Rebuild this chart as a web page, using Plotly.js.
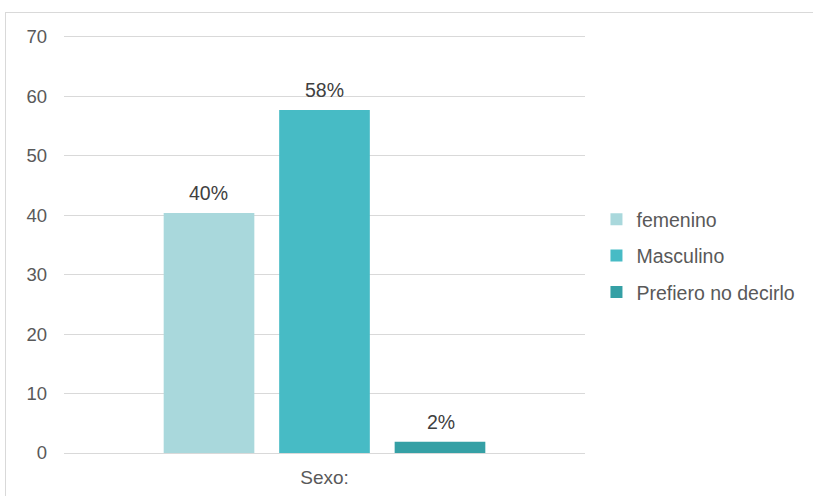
<!DOCTYPE html>
<html>
<head>
<meta charset="utf-8">
<script src="https://cdn.plot.ly/plotly-3.0.1.min.js"></script>
<style>
  html, body { margin: 0; padding: 0; overflow: hidden; background: #fff; }
  #wrap { position: relative; width: 813px; height: 496px; overflow: hidden; }
  #chart { width: 813px; height: 496px; }
  #frame { position: absolute; left: 5px; top: 12px; width: 900px; height: 600px;
           border: 1px solid #d9d9d9; pointer-events: none; box-sizing: border-box; }
</style>
</head>
<body>
<div id="wrap">
  <div id="chart"></div>
  <div id="frame"></div>
</div>
<script>
const category = ["Sexo:"];
const seriesNames = ["femenino", "Masculino", "Prefiero no decirlo"];
const seriesValues = [40.4, 57.7, 1.9];
const seriesLabels = ["40%", "58%", "2%"];
const seriesColors = ["#A9D8DC", "#47BBC5", "#35A0A5"];
const yTicks = [0, 10, 20, 30, 40, 50, 60, 70];

const textColor = "#404040";
const fontFamily = "Liberation Sans, Arial, sans-serif";

const traces = seriesNames.map((name, i) => ({
  type: "bar",
  name: name,
  x: category,
  y: [seriesValues[i]],
  marker: { color: seriesColors[i], line: { width: 0 } },
  legendgroup: "g" + i,
  hoverinfo: "skip"
}));

// bar slot spacing in pixels (group layout), used only to place the value labels
const slotPx = 116;
const annotations = seriesNames.map((name, i) => ({
  x: category[0],
  y: seriesValues[i],
  xref: "x", yref: "y",
  text: seriesLabels[i],
  showarrow: false,
  xshift: (i - 1) * slotPx,
  yanchor: "bottom",
  yshift: 7,
  font: { family: fontFamily, size: 19.5, color: textColor }
}));

const layout = {
  width: 813,
  height: 496,
  margin: { l: 64, r: 228, t: 34, b: 43, autoexpand: false },
  paper_bgcolor: "#ffffff",
  plot_bgcolor: "#ffffff",
  font: { family: fontFamily, size: 18, color: "#595959" },
  barmode: "group",
  bargap: 0.335,
  bargroupgap: 0.215,
  showlegend: true,
  annotations: annotations,
  legend: {
    x: 1.022, xanchor: "left",
    y: 0.47, yanchor: "middle",
    traceorder: "grouped",
    tracegroupgap: 8,
    font: { family: fontFamily, size: 19.5, color: "#595959" },
    itemwidth: 30
  },
  xaxis: {
    type: "category",
    showgrid: false,
    showline: true,
    linecolor: "#d9d9d9",
    linewidth: 1,
    ticks: "",
    ticklabelstandoff: 7,
    tickfont: { family: fontFamily, size: 19, color: "#595959" },
    fixedrange: true
  },
  yaxis: {
    range: [0, 70.5],
    tickvals: yTicks,
    ticktext: yTicks.map(String),
    showgrid: true,
    gridcolor: "#d9d9d9",
    gridwidth: 1,
    zeroline: false,
    showline: false,
    ticks: "",
    ticklabelstandoff: 16,
    tickfont: { family: fontFamily, size: 18.5, color: "#595959" },
    fixedrange: true
  }
};

Plotly.newPlot("chart", traces, layout, { staticPlot: true, displayModeBar: false });
</script>
</body>
</html>
